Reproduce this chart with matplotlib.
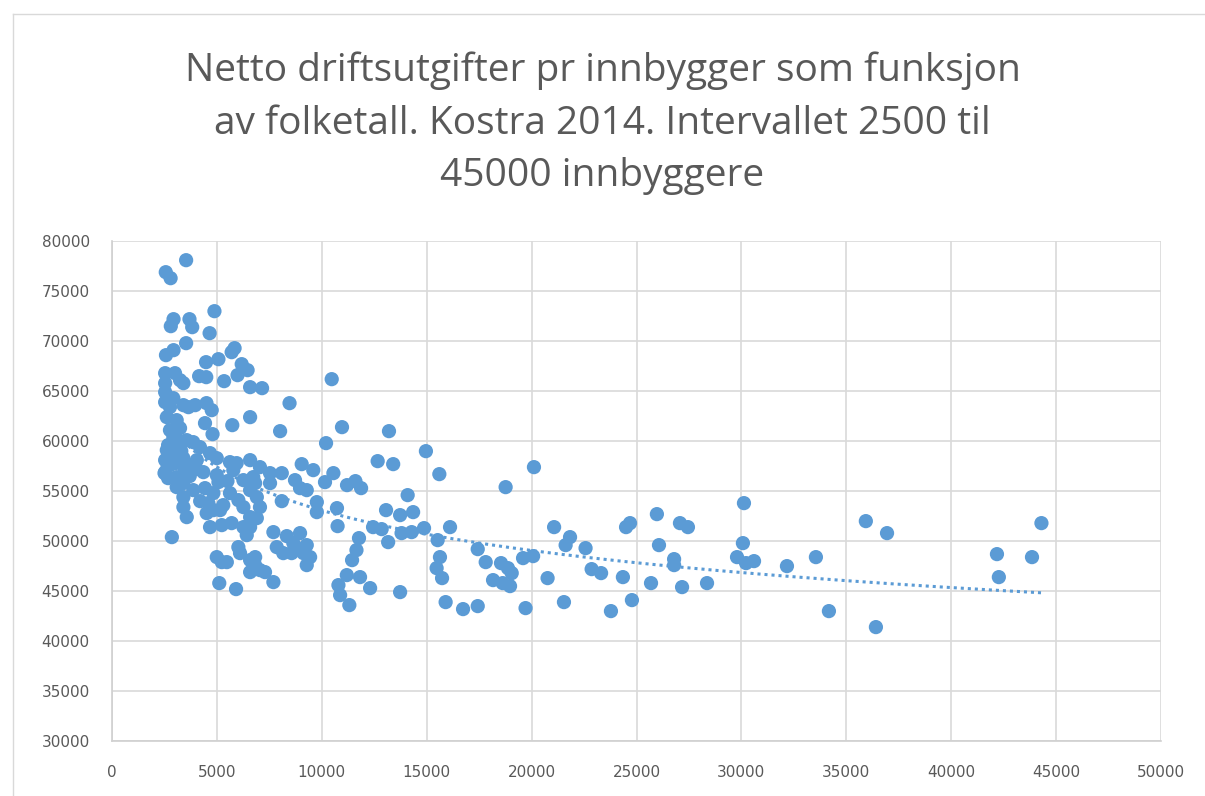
import matplotlib
matplotlib.use("Agg")
import matplotlib.pyplot as plt
import numpy as np

# folketall (innbyggere) og netto driftsutgifter pr innbygger, lest av figuren
folketall = [
    3530, 2560, 2790, 4880, 2930, 2800, 3690, 3820, 4650, 3530, 5840, 5700, 2930, 2570,
    5070, 4480, 6180, 6460, 5980, 10470, 5340, 4150, 4490, 6580, 7150, 8460, 6580, 5730,
    8010, 10960, 4750, 4500, 3960, 3640, 4790, 4430, 10200,
    2530, 3000, 2530, 2530, 2530, 2920, 3240, 3400, 2760, 3400, 2610, 3080, 2760, 3240,
    2920, 2610, 2530, 2530, 2920, 3240, 3560, 3870, 4190, 4670, 4990, 3000, 3400, 3720,
    4040, 3080, 3080, 3400, 4350, 4990, 5070, 5620, 5940, 6580, 5780, 6260, 6730, 4430,
    4830, 3400, 3400, 3560, 4590, 4830, 4510, 4670, 5620, 6020, 6260, 6580, 5230, 5700,
    6260, 6420, 6580, 2850, 6020, 4990, 5230, 5470, 6100, 6580, 6580, 5110, 5910, 6820,
    7290, 7690, 5150, 6580, 6900, 6900, 7050, 7050, 7530, 8090, 7530, 8090,
    7690, 7850, 8330, 8960, 8640, 9280, 9120, 9440, 9280, 8160, 8560, 8800, 6820, 7050,
    9040, 9590, 8720, 9280, 8960, 10550, 10150, 6820, 9760, 9760, 11200, 11600, 11870,
    11770, 11650, 11440, 11190, 10790, 10870, 11310, 11820, 12300, 10720, 10750,
    2500, 2850, 3240, 3870, 2670, 2760, 2670, 3150, 3480,
    3000, 3700, 4200, 4000, 5500, 5300, 2650, 3300,
    13200, 14960, 12660, 13400, 15600, 20110, 18760, 14090, 13060, 14350, 13730, 12440,
    12850, 13160, 13800, 14280, 14870, 16110, 15520, 15630, 15470, 15730, 15900, 16730,
    17430, 17430, 17810, 18540, 18870, 19050, 18160, 18620, 18970, 19590, 20070, 19710,
    20760, 21070, 21540, 21830, 21620, 22570, 22860, 13730,
    44300, 43850, 42180, 42270, 36940, 35930, 36410, 34170, 33550, 32170, 30600, 30220,
    30070, 30120, 29790, 28360, 27450, 27070, 26790, 26790, 27170, 26070, 25970, 25690,
    24780, 24690, 24500, 24350, 23780, 23310,
]
utgifter = [
    78100, 76900, 76300, 73000, 72200, 71500, 72200, 71400, 70800, 69800, 69300, 68900, 69100, 68600,
    68200, 67900, 67700, 67100, 66600, 66200, 66000, 66500, 66400, 65400, 65300, 63800, 62400, 61600,
    61000, 61400, 63100, 63800, 63600, 63400, 60700, 61800, 59800,
    66800, 66800, 65800, 64900, 63900, 64300, 66100, 65800, 63400, 63600, 62400, 62100, 61100, 61300,
    60400, 59100, 58100, 56900, 59300, 59800, 60100, 59900, 59400, 58800, 58300, 57800, 58300, 57400,
    58100, 56400, 55400, 55800, 56900, 56600, 55900, 57900, 57800, 58100, 57100, 56100, 56400, 55300,
    54800, 54400, 53400, 52400, 53800, 53100, 52800, 51400, 54800, 54100, 53400, 55100, 51600, 51800,
    51400, 50600, 52400, 50400, 49400, 48400, 47900, 47900, 48800, 48100, 46900, 45800, 45200, 47600,
    46900, 45900, 53100, 51400, 52300, 54400, 53400, 57400, 56800, 56800, 55800, 54000,
    50900, 49400, 50500, 50800, 49800, 49600, 48800, 48400, 47600, 48800, 48800, 49300, 48400, 47100,
    57700, 57100, 56100, 55100, 55300, 56800, 55900, 55800, 53900, 52900, 55600, 56000, 55300,
    50300, 49100, 48100, 46600, 45600, 44600, 43600, 46400, 45300, 53300, 51500,
    56800, 58900, 57800, 55100, 59600, 57600, 56300, 58600, 57100,
    60500, 56500, 54000, 57200, 56000, 53600, 57500, 59000,
    61000, 59000, 58000, 57700, 56700, 57400, 55400, 54600, 53100, 52900, 52600, 51400,
    51200, 49900, 50800, 50900, 51300, 51400, 50100, 48400, 47300, 46300, 43900, 43200,
    43500, 49200, 47900, 47800, 47300, 46800, 46100, 45800, 45500, 48300, 48500, 43300,
    46300, 51400, 43900, 50400, 49600, 49300, 47200, 44900,
    51800, 48400, 48700, 46400, 50800, 52000, 41400, 43000, 48400, 47500, 48000, 47800,
    49800, 53800, 48400, 45800, 51400, 51800, 48200, 47600, 45400, 49600, 52700, 45800,
    44100, 51800, 51400, 46400, 43000, 46800,
]

x = np.array(folketall, dtype=float)
y = np.array(utgifter, dtype=float)

blue = '#5B9BD5'
grey = '#595959'

fig = plt.figure(figsize=(12.05, 7.96), dpi=100)
ax = fig.add_axes([0.093, 0.069, 0.8705, 0.628])

ax.scatter(x, y, s=105, color=blue, edgecolors='none', zorder=3)

# potens-trendlinje
p = np.polyfit(np.log(x), np.log(y), 1)
xt = np.linspace(x.min(), x.max(), 200)
yt = np.exp(p[1]) * xt ** p[0]
ax.plot(xt, yt, color=blue, lw=2.2, linestyle=(0, (1, 1.3)), zorder=2)

ax.set_xlim(0, 50000)
ax.set_ylim(30000, 80000)
ax.set_xticks(range(0, 50001, 5000))
ax.set_yticks(range(30000, 80001, 5000))
ax.grid(True, color='#D9D9D9', lw=1.2, zorder=0)
ax.set_axisbelow(True)
for s in ['top', 'right']:
    ax.spines[s].set_visible(False)
for s in ['left', 'bottom']:
    ax.spines[s].set_color('#D0D0D0')
    ax.spines[s].set_linewidth(1.2)
ax.tick_params(length=0, colors=grey, labelsize=11)
ax.tick_params(axis='x', pad=17)
ax.tick_params(axis='y', pad=16)

fig.text(0.5, 0.845, 'Netto driftsutgifter pr innbygger som funksjon\n'
         'av folketall. Kostra 2014. Intervallet 2500 til\n45000 innbyggere',
         ha='center', va='center', fontsize=28, color=grey, family='Open Sans',
         linespacing=1.5)

# ramme rundt diagramområdet
fig.add_artist(plt.Line2D([0.0105, 0.0105], [0.0, 0.983], transform=fig.transFigure,
                          color='#D9D9D9', lw=1))
fig.add_artist(plt.Line2D([0.0105, 1.0], [0.983, 0.983], transform=fig.transFigure,
                          color='#D9D9D9', lw=1))

fig.savefig('out.png', dpi=100)
